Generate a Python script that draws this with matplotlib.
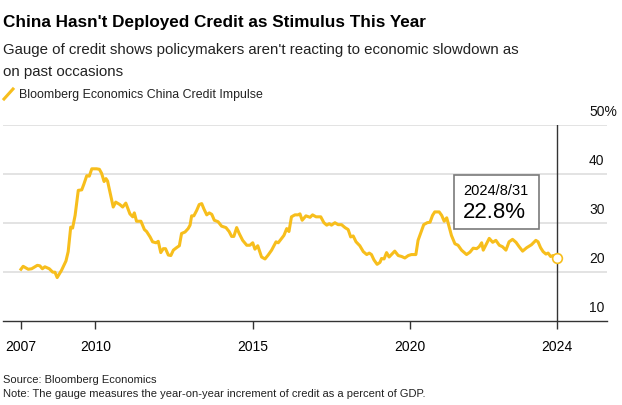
import numpy as np
import matplotlib
matplotlib.use("Agg")
from matplotlib import pyplot as plt
from matplotlib.patches import Rectangle
from matplotlib.lines import Line2D
from matplotlib.transforms import ScaledTranslation

plt.rcParams['font.family'] = ['Liberation Sans', 'DejaVu Sans']

# credit impulse, % of GDP (x in decimal years)
years = [2007.64, 2007.71, 2007.87, 2007.98, 2008.16, 2008.24, 2008.32, 2008.40, 2008.54,
         2008.65, 2008.72, 2008.79, 2008.93, 2009.07, 2009.14, 2009.22, 2009.28, 2009.36,
         2009.46, 2009.57, 2009.64, 2009.73, 2009.81, 2009.89, 2010.04, 2010.13, 2010.20,
         2010.28, 2010.34, 2010.39, 2010.50, 2010.57, 2010.65, 2010.78, 2010.87, 2010.97,
         2011.10, 2011.19, 2011.24, 2011.31, 2011.45, 2011.56, 2011.63, 2011.74, 2011.82,
         2011.93, 2012.00, 2012.08, 2012.16, 2012.23, 2012.32, 2012.40, 2012.48, 2012.58,
         2012.67, 2012.74, 2012.85, 2012.95, 2013.01, 2013.06, 2013.13, 2013.22, 2013.30,
         2013.38, 2013.45, 2013.54, 2013.62, 2013.70, 2013.78, 2013.90, 2014.01, 2014.15,
         2014.25, 2014.33, 2014.40, 2014.49, 2014.57, 2014.68, 2014.81, 2014.91, 2015.00,
         2015.07, 2015.16, 2015.28, 2015.39, 2015.49, 2015.60, 2015.74, 2015.81, 2015.92,
         2015.99, 2016.08, 2016.15, 2016.23, 2016.34, 2016.44, 2016.50, 2016.57, 2016.69,
         2016.82, 2016.90, 2017.01, 2017.16, 2017.26, 2017.35, 2017.43, 2017.50, 2017.61,
         2017.71, 2017.82, 2017.93, 2018.03, 2018.11, 2018.19, 2018.28, 2018.40, 2018.51,
         2018.62, 2018.70, 2018.77, 2018.85, 2018.95, 2019.04, 2019.09, 2019.17, 2019.25,
         2019.33, 2019.51, 2019.62, 2019.73, 2019.83, 2019.94, 2020.04, 2020.18, 2020.25,
         2020.33, 2020.43, 2020.54, 2020.63, 2020.71, 2020.78, 2020.92, 2021.00, 2021.08,
         2021.16, 2021.24, 2021.31, 2021.42, 2021.52, 2021.63, 2021.79, 2021.90, 2022.00,
         2022.11, 2022.19, 2022.27, 2022.32, 2022.40, 2022.51, 2022.62, 2022.72, 2022.83,
         2022.93, 2023.04, 2023.14, 2023.25, 2023.36, 2023.46, 2023.57, 2023.70, 2023.85,
         2023.99, 2024.06, 2024.14, 2024.22, 2024.31, 2024.38, 2024.46, 2024.54, 2024.67]
impulse = [20.5, 21.1, 20.5, 20.6, 21.3, 21.2, 20.6, 21.0, 20.6,
           19.9, 19.9, 18.8, 20.3, 22.2, 24.1, 29.1, 28.9, 31.5,
           36.6, 36.7, 37.9, 39.6, 39.5, 41.0, 41.0, 40.9, 40.1,
           38.4, 39.0, 38.5, 35.2, 33.2, 34.2, 33.7, 33.2, 34.0,
           31.8, 31.2, 32.0, 30.3, 30.3, 28.6, 28.2, 27.1, 26.1,
           25.9, 26.2, 23.9, 24.7, 24.7, 23.4, 23.3, 24.4, 24.9,
           25.3, 27.8, 28.1, 28.8, 29.5, 31.4, 31.4, 32.5, 33.7,
           33.9, 32.8, 31.6, 32.0, 31.7, 30.5, 30.2, 29.3, 29.0,
           28.2, 27.2, 27.2, 29.0, 27.8, 26.4, 25.4, 25.4, 25.9,
           24.6, 25.3, 23.0, 22.6, 23.4, 24.4, 26.1, 25.9, 26.8,
           27.4, 28.8, 28.2, 31.2, 31.6, 31.6, 31.8, 30.5, 31.4,
           31.1, 31.6, 31.2, 31.2, 30.0, 29.5, 29.8, 29.5, 30.0,
           29.6, 29.6, 29.0, 28.6, 27.1, 27.3, 26.1, 25.3, 24.1,
           23.5, 23.8, 23.5, 22.4, 21.5, 21.9, 22.7, 22.6, 23.9,
           23.0, 24.2, 23.3, 23.1, 22.8, 23.3, 23.5, 23.5, 26.4,
           27.8, 29.6, 30.0, 30.1, 31.5, 32.2, 32.2, 31.5, 30.3,
           31.0, 29.1, 27.4, 25.7, 25.4, 24.4, 23.5, 24.0, 24.8,
           24.7, 25.1, 25.9, 24.4, 25.4, 26.8, 26.0, 26.4, 25.4,
           25.1, 24.4, 26.1, 26.6, 26.0, 25.1, 24.2, 24.9, 25.5,
           26.4, 26.1, 24.9, 24.1, 23.6, 23.8, 23.1, 23.3, 22.8]

tick_years = [2007.64, 2010, 2015, 2020, 2024.67]
tick_labels = ["2007", "2010", "2015", "2020", "2024"]
y_ticks = [10, 20, 30, 40, 50]
y_labels = ["10", "20", "30", "40", "50%"]

yellow = "#F7BE1C"
W, H = 622, 406


def fx(px):
    return px / W


def fy(py):
    return 1 - py / H


fig = plt.figure(figsize=(6.22, 4.06), dpi=100)
ax = fig.add_axes([fx(3), fy(321.7), fx(606.7) - fx(3), fy(125.7) - fy(321.7)])

ax.set_xlim(2007.07, 2026.24)
ax.set_ylim(10, 50)

for v in y_ticks[1:]:
    ax.axhline(v, color="#dedede", lw=1.2, zorder=1)

ax.axvline(years[-1], color="#333333", lw=1, zorder=2)
ax.plot(years, impulse, color=yellow, lw=2.2, zorder=3, solid_joinstyle="round")
ax.plot(years[-1], impulse[-1], "o", ms=7, mfc="white", mec=yellow, mew=1.2, zorder=4)

for sp in ["top", "right", "left"]:
    ax.spines[sp].set_visible(False)
ax.spines["bottom"].set_color("#333333")
ax.spines["bottom"].set_linewidth(1)

ax.set_xticks(tick_years)
ax.set_xticklabels(tick_labels, fontsize=10)
ax.tick_params(axis="x", length=6, width=1, color="#333333", pad=7)
ax.set_yticks([])

for v, lab in zip(y_ticks, y_labels):
    ax.annotate(lab, xy=(1, v), xycoords=("axes fraction", "data"),
                xytext=(-12.7, 9.9), textcoords="offset points",
                ha="left", va="center", fontsize=10, color="#111111")

# callout box anchored to the last point
tr = fig.dpi_scale_trans + ScaledTranslation(years[-1], impulse[-1], ax.transData)
ax.add_patch(Rectangle((-1.033, 0.288), 0.85, 0.54, transform=tr, fill=True,
                       facecolor="white", edgecolor="#7a7a7a", lw=1.2, zorder=5,
                       clip_on=False))
ax.text(-0.61, 0.68, "2024/8/31", transform=tr, ha="center", va="center",
        fontsize=10.5, zorder=6)
ax.text(-0.63, 0.46, "22.8%", transform=tr, ha="center", va="center",
        fontsize=16, zorder=6)

fig.text(fx(3), fy(22), "China Hasn't Deployed Credit as Stimulus This Year",
         fontsize=12.3, fontweight="bold", ha="left", va="center")
fig.text(fx(3), fy(50), "Gauge of credit shows policymakers aren't reacting to economic slowdown as",
         fontsize=10.8, ha="left", va="center", color="#222222")
fig.text(fx(3), fy(72), "on past occasions",
         fontsize=10.8, ha="left", va="center", color="#222222")
fig.add_artist(Line2D([fx(4), fx(13)], [fy(100), fy(90)], color=yellow, lw=2.2,
                      transform=fig.transFigure))
fig.text(fx(19), fy(95), "Bloomberg Economics China Credit Impulse",
         fontsize=8.9, ha="left", va="center", color="#222222")
fig.text(fx(3), fy(380), "Source: Bloomberg Economics",
         fontsize=8.0, ha="left", va="center", color="#222222")
fig.text(fx(3), fy(394), "Note: The gauge measures the year-on-year increment of credit as a percent of GDP.",
         fontsize=8.0, ha="left", va="center", color="#222222")

fig.savefig("out.png", dpi=100)
